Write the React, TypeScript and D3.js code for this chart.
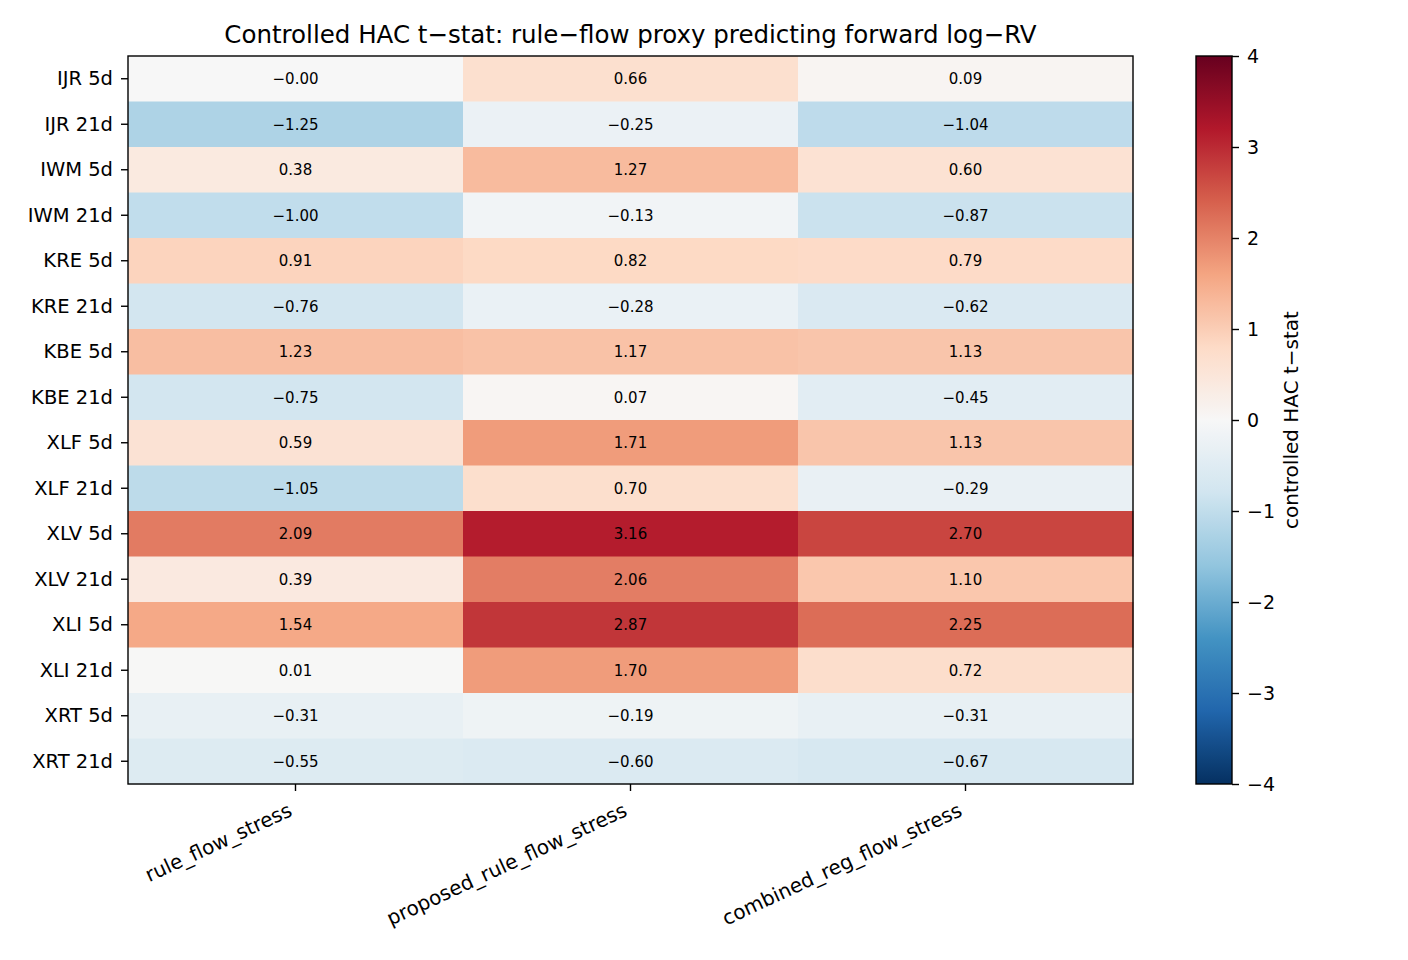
import { useEffect, useRef } from 'react';
import * as d3 from 'd3';

const rows = [
  'IJR 5d', 'IJR 21d', 'IWM 5d', 'IWM 21d', 'KRE 5d', 'KRE 21d', 'KBE 5d', 'KBE 21d',
  'XLF 5d', 'XLF 21d', 'XLV 5d', 'XLV 21d', 'XLI 5d', 'XLI 21d', 'XRT 5d', 'XRT 21d',
];
const cols = ['rule_flow_stress', 'proposed_rule_flow_stress', 'combined_reg_flow_stress'];

const ruleFlow = [-0.001, -1.25, 0.38, -1.0, 0.91, -0.76, 1.23, -0.75, 0.59, -1.05, 2.09, 0.39, 1.54, 0.01, -0.31, -0.55];
const proposedFlow = [0.66, -0.25, 1.27, -0.13, 0.82, -0.28, 1.17, 0.07, 1.71, 0.70, 3.16, 2.06, 2.87, 1.70, -0.19, -0.60];
const combinedFlow = [0.09, -1.04, 0.60, -0.87, 0.79, -0.62, 1.13, -0.45, 1.13, -0.29, 2.70, 1.10, 2.25, 0.72, -0.31, -0.67];

const cbTicks = [-4, -3, -2, -1, 0, 1, 2, 3, 4];

// matplotlib RdBu_r, linear between the ColorBrewer stops
const rdbu = ['#67001f', '#b2182b', '#d6604d', '#f4a582', '#fddbc7', '#f7f7f7', '#d1e5f0', '#92c5de', '#4393c3', '#2166ac', '#053061'];

const FONT = '"DejaVu Sans", Verdana, sans-serif';
const minus = (s: string) => s.replace('-', '\u2212');
const fmt = (v: number) => minus(v.toFixed(2));

export default function App() {
  const ref = useRef<SVGSVGElement | null>(null);

  useEffect(() => {
    const el = ref.current;
    if (!el) return;
    const svg = d3.select(el);
    svg.selectAll('*').remove();

    const W = 1408, H = 960;
    const left = 128, right = 1133, top = 56, bottom = 784;
    const tickLen = 7, tickPad = 8;

    const color = d3.scaleLinear<string>()
      .domain(d3.range(rdbu.length).map(i => 4 - (8 * i) / (rdbu.length - 1)))
      .range(rdbu)
      .interpolate(d3.interpolateRgb)
      .clamp(true);

    const x = d3.scaleBand().domain(cols).range([left, right]);
    const y = d3.scaleBand().domain(rows).range([top, bottom]);

    svg.append('rect').attr('width', W).attr('height', H).attr('fill', '#fff');

    const series = [ruleFlow, proposedFlow, combinedFlow];
    const cells = cols.flatMap((c, ci) => rows.map((r, ri) => ({ c, r, v: series[ci][ri] })));

    const g = svg.append('g');
    g.selectAll('rect.cell')
      .data(cells)
      .join('rect')
      .attr('class', 'cell')
      .attr('x', d => x(d.c)!)
      .attr('y', d => y(d.r)!)
      .attr('width', x.bandwidth() + 0.5)
      .attr('height', y.bandwidth() + 0.5)
      .attr('fill', d => color(d.v));

    g.selectAll('text.val')
      .data(cells)
      .join('text')
      .attr('class', 'val')
      .attr('x', d => x(d.c)! + x.bandwidth() / 2)
      .attr('y', d => y(d.r)! + y.bandwidth() / 2)
      .attr('text-anchor', 'middle')
      .attr('dy', '0.36em')
      .style('font-family', FONT)
      .style('font-size', '15px')
      .attr('fill', '#000')
      .text(d => fmt(d.v));

    // frame
    svg.append('rect')
      .attr('x', left).attr('y', top)
      .attr('width', right - left).attr('height', bottom - top)
      .attr('fill', 'none').attr('stroke', '#000').attr('stroke-width', 1.4);

    // y axis
    const yAx = svg.append('g').attr('transform', `translate(${left},0)`)
      .call(d3.axisLeft(y).tickSize(tickLen).tickPadding(tickPad));
    yAx.select('.domain').remove();
    yAx.selectAll('line').attr('stroke', '#000').attr('stroke-width', 1.4);
    yAx.selectAll('text').style('font-family', FONT).style('font-size', '19.5px').attr('fill', '#000');

    // x axis, labels rotated 25 degrees, right-aligned at the tick
    const xAx = svg.append('g').attr('transform', `translate(0,${bottom})`)
      .call(d3.axisBottom(x).tickSize(tickLen).tickPadding(tickPad));
    xAx.select('.domain').remove();
    xAx.selectAll('line').attr('stroke', '#000').attr('stroke-width', 1.4);
    xAx.selectAll('text')
      .style('font-family', FONT).style('font-size', '20px').attr('fill', '#000')
      .attr('text-anchor', 'end')
      .attr('x', 0).attr('y', 0).attr('dy', 0)
      .attr('transform', 'translate(-2,31) rotate(-25)');

    // title
    svg.append('text')
      .attr('x', (left + right) / 2).attr('y', 43)
      .attr('text-anchor', 'middle')
      .style('font-family', FONT).style('font-size', '24.5px')
      .text('Controlled HAC t\u2212stat: rule\u2212flow proxy predicting forward log\u2212RV');

    // colorbar
    const cbX = 1196, cbW = 36;
    const cy = d3.scaleLinear().domain([-4, 4]).range([bottom, top]);
    const grad = svg.append('defs').append('linearGradient').attr('id', 'cbgrad')
      .attr('x1', 0).attr('x2', 0).attr('y1', 1).attr('y2', 0);
    d3.range(0, 1.0001, 0.02).forEach(t => {
      grad.append('stop').attr('offset', t).attr('stop-color', color(-4 + 8 * t));
    });
    svg.append('rect')
      .attr('x', cbX).attr('y', top).attr('width', cbW).attr('height', bottom - top)
      .attr('fill', 'url(#cbgrad)').attr('stroke', '#000').attr('stroke-width', 1.4);

    const cAx = svg.append('g').attr('transform', `translate(${cbX + cbW},0)`)
      .call(d3.axisRight(cy).tickValues(cbTicks).tickSize(tickLen).tickPadding(tickPad)
        .tickFormat(d => minus(String(d))));
    cAx.select('.domain').remove();
    cAx.selectAll('line').attr('stroke', '#000').attr('stroke-width', 1.4);
    cAx.selectAll('text').style('font-family', FONT).style('font-size', '19px').attr('fill', '#000');

    svg.append('text')
      .attr('transform', `translate(1298,${(top + bottom) / 2}) rotate(-90)`)
      .attr('text-anchor', 'middle')
      .style('font-family', FONT).style('font-size', '20px')
      .text('controlled HAC t\u2212stat');
  }, []);

  return (
    <svg ref={ref} width={1408} height={960}
      style={{ position: 'absolute', left: 0, top: 0, display: 'block' }} />
  );
}
